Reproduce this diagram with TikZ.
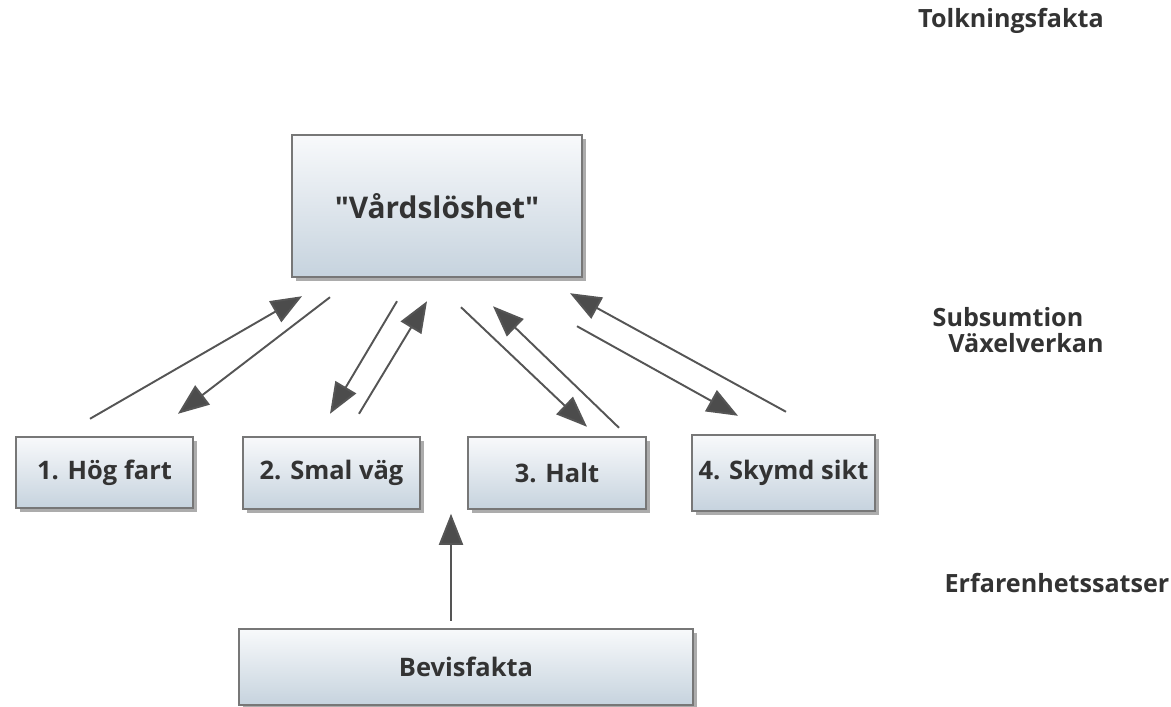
\documentclass[tikz,border=0pt]{standalone}
\usepackage{fontspec}
\setmainfont{Open Sans}
\usepackage{xcolor}
\usetikzlibrary{arrows.meta,calc,positioning,shadows}
\definecolor{boxtop}{HTML}{F8F9FB}
\definecolor{boxbot}{HTML}{C6D3DE}
\definecolor{boxline}{HTML}{777777}
\definecolor{arrline}{HTML}{555555}
\definecolor{txt}{HTML}{333333}
\tikzset{%
	fact/.style     = {draw=boxline, line width=1.4pt, rectangle, top color=boxtop, bottom color=boxbot, text=txt, font=\bfseries\fontsize{14.5}{17}\selectfont, drop shadow={shadow xshift=2.5pt, shadow yshift=-2.5pt, fill=black!50, opacity=0.65}}, % Box
	side/.style     = {text=txt, font=\bfseries\fontsize{14.3}{17}\selectfont}, % Level label
	arrow/.style    = {draw=arrline, line width=1.1pt, -{Triangle[length=0.62cm,width=0.48cm,fill=arrline!90!black]}},
}

\begin{document}
\begin{tikzpicture}[x=0.02cm,y=-0.02cm]
		\useasboundingbox (0,0) rectangle (1171,707);
		\node [fact, minimum width=5.8cm, minimum height=2.84cm, font=\bfseries\fontsize{17}{20}\selectfont] (vard) at (437,206) {\textquotedbl Vårdslöshet\textquotedbl};
		\node [fact, minimum width=3.54cm, minimum height=1.42cm] (hog) at (104.5,472.5) {1. Hög fart};
		\node [fact, minimum width=3.54cm, minimum height=1.44cm] (smal) at (331.5,473) {2. Smal väg};
		\node [fact, minimum width=3.56cm, minimum height=1.44cm] (halt) at (557,473) {3. Halt};
		\node [fact, minimum width=3.66cm, minimum height=1.52cm] (sikt) at (783.5,473) {4. Skymd sikt};
		\node [fact, minimum width=9.08cm, minimum height=1.52cm] (bevis) at (466,667) {Bevisfakta};
		\coordinate (gap) at ($(bevis.north)+(-15,-114)$);
		
		\draw[arrow] ([shift={(-14.5,-17)}]hog.north) -- ([shift={(-135,18)}]vard.south);
		\draw[arrow] ([shift={(-107,19)}]vard.south) -- ([shift={(73.5,-22)}]hog.north);
		\draw[arrow] ([shift={(-40,23)}]vard.south) -- ([shift={(-1.5,-22)}]smal.north);
		\draw[arrow] ([shift={(27.5,-22)}]smal.north) -- ([shift={(-10,23)}]vard.south);
		\draw[arrow] ([shift={(24,29)}]vard.south) -- ([shift={(30,-9)}]halt.north);
		\draw[arrow] ([shift={(62,-8)}]halt.north) -- ([shift={(56,28)}]vard.south);
		\draw[arrow] ([shift={(140,48)}]vard.south) -- ([shift={(-45.5,-18)}]sikt.north);
		\draw[arrow] ([shift={(2.5,-22)}]sikt.north) -- ([shift={(133,15)}]vard.south);
		\draw[arrow] ([shift={(-15,-7)}]bevis.north) -- (gap);
		
		\node[side] (tolk) at (1011,21) {Tolkningsfakta};
		\node[side] (subs) at (1008,317) {Subsumtion};
		\node[side] (vaxel) at (1026,343) {Växelverkan};
		\node[side] (erf) at (1057,583) {Erfarenhetssatser};
		\end{tikzpicture}
\end{document}
